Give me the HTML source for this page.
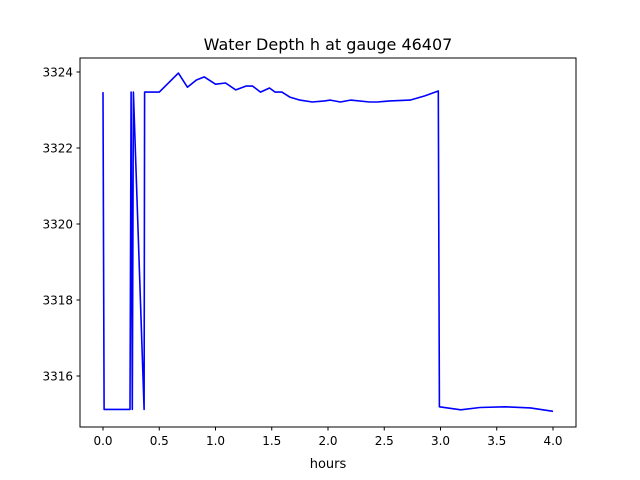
<!DOCTYPE html>
<html><head><meta charset="utf-8"><style>
body{margin:0;background:#fff}
svg{display:block;font-family:"DejaVu Sans","Liberation Sans",sans-serif}
</style></head><body>
<svg id="chart" width="640" height="480">
<rect width="640" height="480" fill="#fff"/>
<text x="328" y="50" text-anchor="middle" font-size="16">Water Depth h at gauge 46407</text>
<g id="ticks"></g>
<path id="line" fill="none" stroke="#0000ff" stroke-width="1.6" stroke-linejoin="round"/>
<rect x="80" y="58" width="496" height="369" fill="none" stroke="#000" stroke-width="1"/>
<text x="328" y="468" text-anchor="middle" font-size="13">hours</text>
</svg>
<script>
const hours=[0,0.01,0.24,0.25,0.26,0.27,0.365,0.37,0.5,0.67,0.75,0.83,0.9,1.0,1.09,1.18,1.27,1.33,1.4,1.48,1.53,1.59,1.66,1.75,1.86,1.97,2.02,2.11,2.2,2.37,2.44,2.55,2.73,2.86,2.98,2.99,3.18,3.35,3.57,3.8,4.0];
const depth=[3323.47,3315.12,3315.12,3323.47,3315.12,3323.47,3315.12,3323.47,3323.47,3323.97,3323.6,3323.79,3323.87,3323.68,3323.71,3323.53,3323.63,3323.63,3323.47,3323.58,3323.47,3323.47,3323.34,3323.26,3323.21,3323.24,3323.26,3323.21,3323.26,3323.21,3323.21,3323.24,3323.26,3323.37,3323.5,3315.19,3315.11,3315.17,3315.19,3315.16,3315.07];
const xTicks=[0,0.5,1,1.5,2,2.5,3,3.5,4];
const xTickLabels=["0.0","0.5","1.0","1.5","2.0","2.5","3.0","3.5","4.0"];
const yTicks=[3316,3318,3320,3322,3324];
const yTickLabels=["3316","3318","3320","3322","3324"];
const X=h=>103+h*112.5;
const Y=v=>72+(3324-v)*38;
const NS="http://www.w3.org/2000/svg";
const g=document.getElementById('ticks');
function mk(t,a){const e=document.createElementNS(NS,t);for(const k in a)e.setAttribute(k,a[k]);g.appendChild(e);return e;}
xTicks.forEach((t,i)=>{
 const l=mk('line',{x1:X(t),x2:X(t),y1:427,y2:430.5,stroke:'#000'});
 
 
 const tx=mk('text',{x:X(t),y:445,'text-anchor':'middle','font-size':'12'});
 tx.textContent=xTickLabels[i];
 
 
});
yTicks.forEach((t,i)=>{
 const l=mk('line',{x1:76.5,x2:80,y1:Y(t),y2:Y(t),stroke:'#000'});
 
 
 const tx=mk('text',{x:73,y:Y(t)+4.5,'text-anchor':'end','font-size':'12'});
 tx.textContent=yTickLabels[i];
 
 
});
document.getElementById('line').setAttribute('d',hours.map((h,i)=>(i?'L':'M')+X(h).toFixed(1)+','+Y(depth[i]).toFixed(1)).join(''));
</script>
</body></html>
